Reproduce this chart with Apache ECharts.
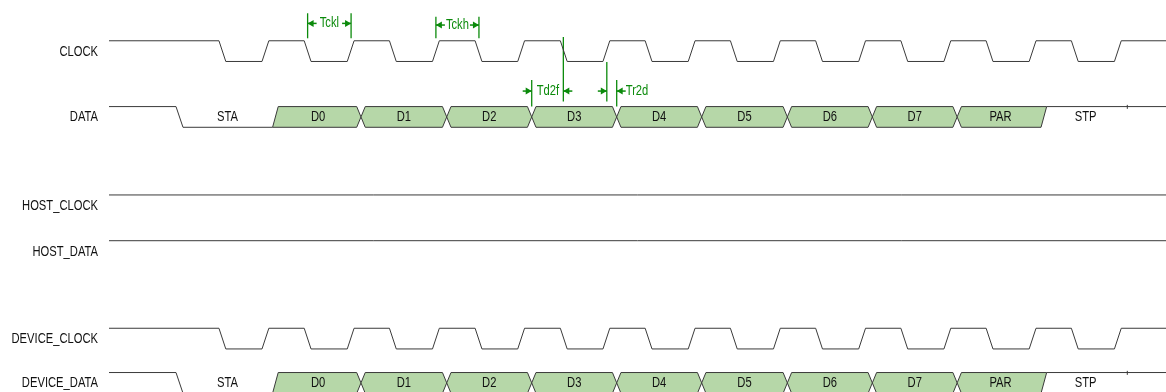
<!DOCTYPE html>
<html>
<head>
<meta charset="utf-8">
<script src="https://cdn.jsdelivr.net/npm/echarts@6.0.0/dist/echarts.min.js"></script>
<style>
html, body { margin: 0; padding: 0; background: #fff; }
#chart { width: 1166px; height: 392px; }
</style>
</head>
<body>
<div id="chart"></div>
<script>
// rows of the diagram: value of the high level (low level sits one unit below)
const rowNames = ['CLOCK', 'DATA', 'HOST_CLOCK', 'HOST_DATA', 'DEVICE_CLOCK', 'DEVICE_DATA']
const rowHigh = [16.53, 13.35, 9.08, 6.87, 2.64, 0.50]

// clock edges (time units)
const clockFall = [12.9, 22.9, 32.9, 42.95, 52.95, 62.9, 72.9, 82.9, 92.9, 102.9, 112.9]
const clockRise = [17.95, 27.95, 37.95, 47.95, 57.95, 67.95, 77.95, 87.95, 97.95, 107.95, 117.95]

// data frame: bit boundaries and bit names
const busBounds = [8.27, 19.52, 29.56, 39.62, 49.59, 59.56, 69.53, 79.58, 89.55, 99.5, 109.67, 119.46]
const busLabels = ['STA', 'D0', 'D1', 'D2', 'D3', 'D4', 'D5', 'D6', 'D7', 'PAR', 'STP']

// timing annotations
const annNames = ['Tckl', 'Tckh', 'Td2f', 'Tr2d']
const annFrom = [23.3, 38.35, 49.59, 58.4]
const annTo = [28.4, 43.4, 53.3, 59.56]
const annLevel = [17.37, 17.29, 14.1, 14.1]
const annFromSpan = [[17.86, 16.65], [17.69, 16.65], [14.64, 13.35], [15.5, 13.59]]
const annToSpan = [[17.86, 16.65], [17.69, 16.65], [16.71, 13.59], [14.64, 13.35]]
const annText = ['mid', 'mid', 'between', 'right']

const X_MAX = 124
const EDGE = 0.8
const WAVE = '#3a3a3a'
const GREEN = '#0b8a0b'
const FONT = '14px "Liberation Sans", Arial, sans-serif'
const NARROW = 0.8 // the original uses a condensed face

const narrowText = (x, y, text, fill, align) => ({
    type: 'text', x: x, y: y, scaleX: NARROW,
    style: { text: text, fill: fill, font: FONT, align: align, verticalAlign: 'middle' }
})

const clockPoints = (h) => {
    const l = h - 1
    const pts = [[0, h]]
    clockFall.forEach((f, i) => {
        pts.push([f, h], [f + EDGE, l], [clockRise[i], l], [clockRise[i] + EDGE, h])
    })
    pts.push([X_MAX, h])
    return pts
}

const lineSeries = (data) => ({
    type: 'line',
    data: data,
    symbol: 'none',
    silent: true,
    lineStyle: { color: WAVE, width: 1 }
})

const busSeries = (h) => {
    const l = h - 1, m = h - 0.5, t = h - 0.53
    const last = busLabels.length - 1
    const line = { stroke: WAVE, lineWidth: 1, fill: null }
    return {
        type: 'custom',
        silent: true,
        data: busLabels.map((n, i) => [busBounds[i], busBounds[i + 1], i]),
        renderItem: (params, api) => {
            const s = api.value(0), e = api.value(1), i = api.value(2)
            const c = (a, b) => api.coord([a, b])
            const kids = []
            if (i === 0) {
                kids.push({ type: 'polyline', shape: { points: [c(0, h), c(s - 0.41, h), c(s + 0.41, l), c(e - 0.33, l)] }, style: line })
            } else if (i === last) {
                kids.push({ type: 'polyline', shape: { points: [c(s + 0.33, h), c(X_MAX, h)] }, style: line })
                const p = c(e, h)
                kids.push({ type: 'line', shape: { x1: p[0], y1: p[1] - 1.7, x2: p[0], y2: p[1] + 2.3 }, style: line })
            } else {
                const pts = []
                if (i === 1) pts.push(c(s - 0.33, l), c(s + 0.33, h))
                else pts.push(c(s, m), c(s + 0.5, h))
                if (i === last - 1) pts.push(c(e + 0.33, h), c(e - 0.33, l))
                else pts.push(c(e - 0.5, h), c(e, m), c(e - 0.5, l))
                if (i !== 1) pts.push(c(s + 0.5, l))
                kids.push({ type: 'polygon', shape: { points: pts }, style: { fill: '#b6d7a8', stroke: WAVE, lineWidth: 1 } })
            }
            const tp = c((s + e) / 2, t)
            kids.push(narrowText(tp[0], tp[1], busLabels[i], '#111', 'center'))
            return { type: 'group', children: kids }
        }
    }
}

// signal names left of the plot
const nameSeries = {
    type: 'custom',
    silent: true,
    clip: false,
    data: rowNames.map((n, i) => [0, rowHigh[i] - 0.53, i]),
    renderItem: (params, api) => {
        const p = api.coord([api.value(0), api.value(1)])
        return narrowText(p[0] - 11, p[1], rowNames[api.value(2)], '#111', 'right')
    }
}

const annSeries = {
    type: 'custom',
    silent: true,
    data: annNames.map((n, i) => [annFrom[i], annTo[i], annLevel[i], i]),
    renderItem: (params, api) => {
        const i = api.value(3)
        const a = api.coord([annFrom[i], annLevel[i]])
        const b = api.coord([annTo[i], annLevel[i]])
        const y = a[1]
        const ys = (v) => api.coord([0, v])[1]
        const kids = []
        const vline = (x, span) => ({ type: 'line', shape: { x1: x, y1: ys(span[0]), x2: x, y2: ys(span[1]) }, style: { stroke: GREEN, lineWidth: 1.3 } })
        // dir = 1 points right, -1 points left
        const arrow = (tip, dir) => {
            kids.push({ type: 'line', shape: { x1: tip - dir * 9, y1: y, x2: tip, y2: y }, style: { stroke: GREEN, lineWidth: 1.5 } })
            kids.push({ type: 'polygon', shape: { points: [[tip, y], [tip - dir * 6, y - 3.5], [tip - dir * 6, y + 3.5]] }, style: { fill: GREEN } })
        }
        kids.push(vline(a[0], annFromSpan[i]), vline(b[0], annToSpan[i]))
        let tx, align = 'left'
        if (annText[i] === 'mid') {
            arrow(a[0], -1)
            arrow(b[0], 1)
            tx = (a[0] + b[0]) / 2
            align = 'center'
        } else {
            arrow(a[0], 1)
            arrow(b[0], -1)
            tx = annText[i] === 'between' ? a[0] + 5 : b[0] + 9
        }
        kids.push(narrowText(tx, y, annNames[i], GREEN, align))
        return { type: 'group', children: kids }
    }
}

const chart = echarts.init(document.getElementById('chart'))
chart.setOption({
    animation: false,
    grid: { left: 109, right: 0, top: 0, bottom: 0, containLabel: false, outerBoundsMode: 'none' },
    xAxis: { type: 'value', min: 0, max: X_MAX, show: false },
    yAxis: { type: 'value', min: -0.44, max: 18.5, show: false },
    series: [
        lineSeries(clockPoints(rowHigh[0])),
        busSeries(rowHigh[1]),
        lineSeries([[0, rowHigh[2]], [X_MAX, rowHigh[2]]]),
        lineSeries([[0, rowHigh[3]], [X_MAX, rowHigh[3]]]),
        lineSeries(clockPoints(rowHigh[4])),
        busSeries(rowHigh[5]),
        annSeries,
        nameSeries
    ]
})
</script>
</body>
</html>
